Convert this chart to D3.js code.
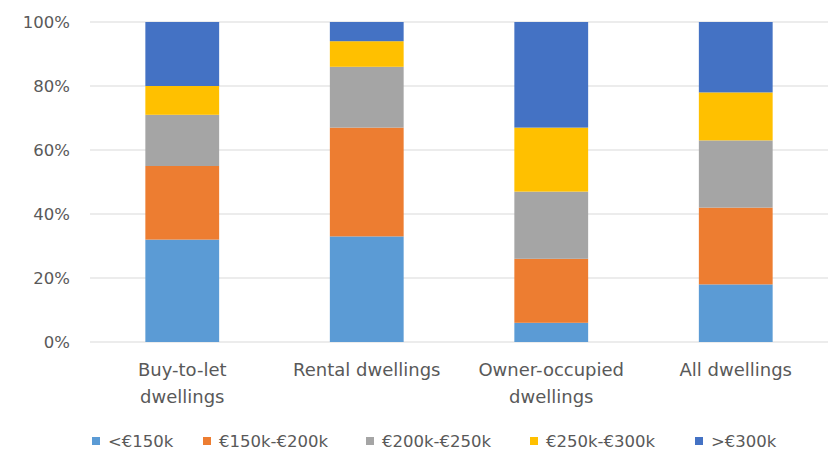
<!DOCTYPE html>
<html>
<head>
<meta charset="utf-8">
<script src="https://cdn.jsdelivr.net/npm/d3@7"></script>
<style>
  html, body { margin: 0; padding: 0; background: #fff; }
  svg { display: block; }
  text { font-family: "DejaVu Sans", "Open Sans", sans-serif; fill: #595959; }
</style>
</head>
<body>
<svg id="chart" width="832" height="451"></svg>
<script>
// Dwelling types on the x axis
const categories = ["Buy-to-let dwellings", "Rental dwellings", "Owner-occupied dwellings", "All dwellings"];

// Price bands, bottom to top in each stack
const bands = ["<€150k", "€150k-€200k", "€200k-€250k", "€250k-€300k", ">€300k"];

// Share of dwellings (%) in each price band, one entry per category
const under150 = [32, 33, 6, 18];
const from150to200 = [23, 34, 20, 24];
const from200to250 = [16, 19, 21, 21];
const from250to300 = [9, 8, 20, 15];
const over300 = [20, 6, 33, 22];

const yTicks = [0, 0.2, 0.4, 0.6, 0.8, 1.0];
const colors = ["#5B9BD5", "#ED7D31", "#A5A5A5", "#FFC000", "#4472C4"];

const seriesValues = [under150, from150to200, from200to250, from250to300, over300];
const rows = categories.map((c, i) => {
  const r = { category: c };
  bands.forEach((b, j) => { r[b] = seriesValues[j][i]; });
  return r;
});

const svg = d3.select("#chart");
const plotLeft = 90, plotRight = 828, plotTop = 22, plotBottom = 342;
const fontStack = "'DejaVu Sans', 'Open Sans', sans-serif";

const x = d3.scaleBand().domain(categories).range([plotLeft, plotRight]).paddingInner(0.6).paddingOuter(0.3);
const y = d3.scaleLinear().domain([0, 1]).range([plotBottom, plotTop]);

const stack = d3.stack().keys(bands).offset(d3.stackOffsetExpand);
const stacked = stack(rows);

// Horizontal gridlines
svg.append("g")
  .selectAll("line")
  .data(yTicks)
  .join("line")
  .attr("x1", plotLeft).attr("x2", plotRight)
  .attr("y1", d => y(d)).attr("y2", d => y(d))
  .attr("stroke", "#d9d9d9").attr("stroke-width", 1);

// Y axis labels
const yAxis = svg.append("g")
  .attr("transform", `translate(${plotLeft - 20},0)`)
  .call(d3.axisLeft(y).tickValues(yTicks).tickSize(0).tickPadding(0).tickFormat(d3.format(".0%")));
yAxis.select(".domain").remove();
yAxis.selectAll("text").attr("font-size", 16.5).style("font-family", fontStack).attr("fill", "#595959");

// Stacked bars
svg.append("g")
  .selectAll("g")
  .data(stacked)
  .join("g")
  .attr("fill", (d, i) => colors[i])
  .selectAll("rect")
  .data(d => d)
  .join("rect")
  .attr("x", d => x(d.data.category))
  .attr("width", x.bandwidth())
  .attr("y", d => y(d[1]))
  .attr("height", d => y(d[0]) - y(d[1]));

// Category labels, wrapped onto two lines where needed
const xAxis = svg.append("g")
  .attr("transform", `translate(0,${plotBottom})`)
  .call(d3.axisBottom(x).tickSize(0).tickPadding(21));
xAxis.select(".domain").remove();
xAxis.selectAll("text")
  .attr("font-size", 18)
  .style("font-family", fontStack)
  .attr("fill", "#595959")
  .each(function () {
    const t = d3.select(this);
    const words = t.text().split(" ");
    const maxW = 165;
    t.text(null);
    let line = [];
    let tspan = t.append("tspan").attr("x", 0).attr("dy", "0.71em");
    words.forEach(w => {
      line.push(w);
      tspan.text(line.join(" "));
      if (tspan.node().getComputedTextLength() > maxW && line.length > 1) {
        line.pop();
        tspan.text(line.join(" "));
        line = [w];
        tspan = t.append("tspan").attr("x", 0).attr("dy", "1.5em").text(w);
      }
    });
  });

// Legend
const legendX = [92, 203, 366, 530, 695];
const legend = svg.append("g").attr("transform", "translate(0,441)");
const item = legend.selectAll("g")
  .data(bands)
  .join("g")
  .attr("transform", (d, i) => `translate(${legendX[i]},0)`);
item.append("rect")
  .attr("x", 0).attr("y", -4).attr("width", 8).attr("height", 8)
  .attr("fill", (d, i) => colors[i]);
item.append("text")
  .attr("x", 16).attr("y", 0).attr("dy", "0.35em")
  .attr("font-size", 16.5)
  .style("font-family", fontStack)
  .text(d => d);
</script>
</body>
</html>
